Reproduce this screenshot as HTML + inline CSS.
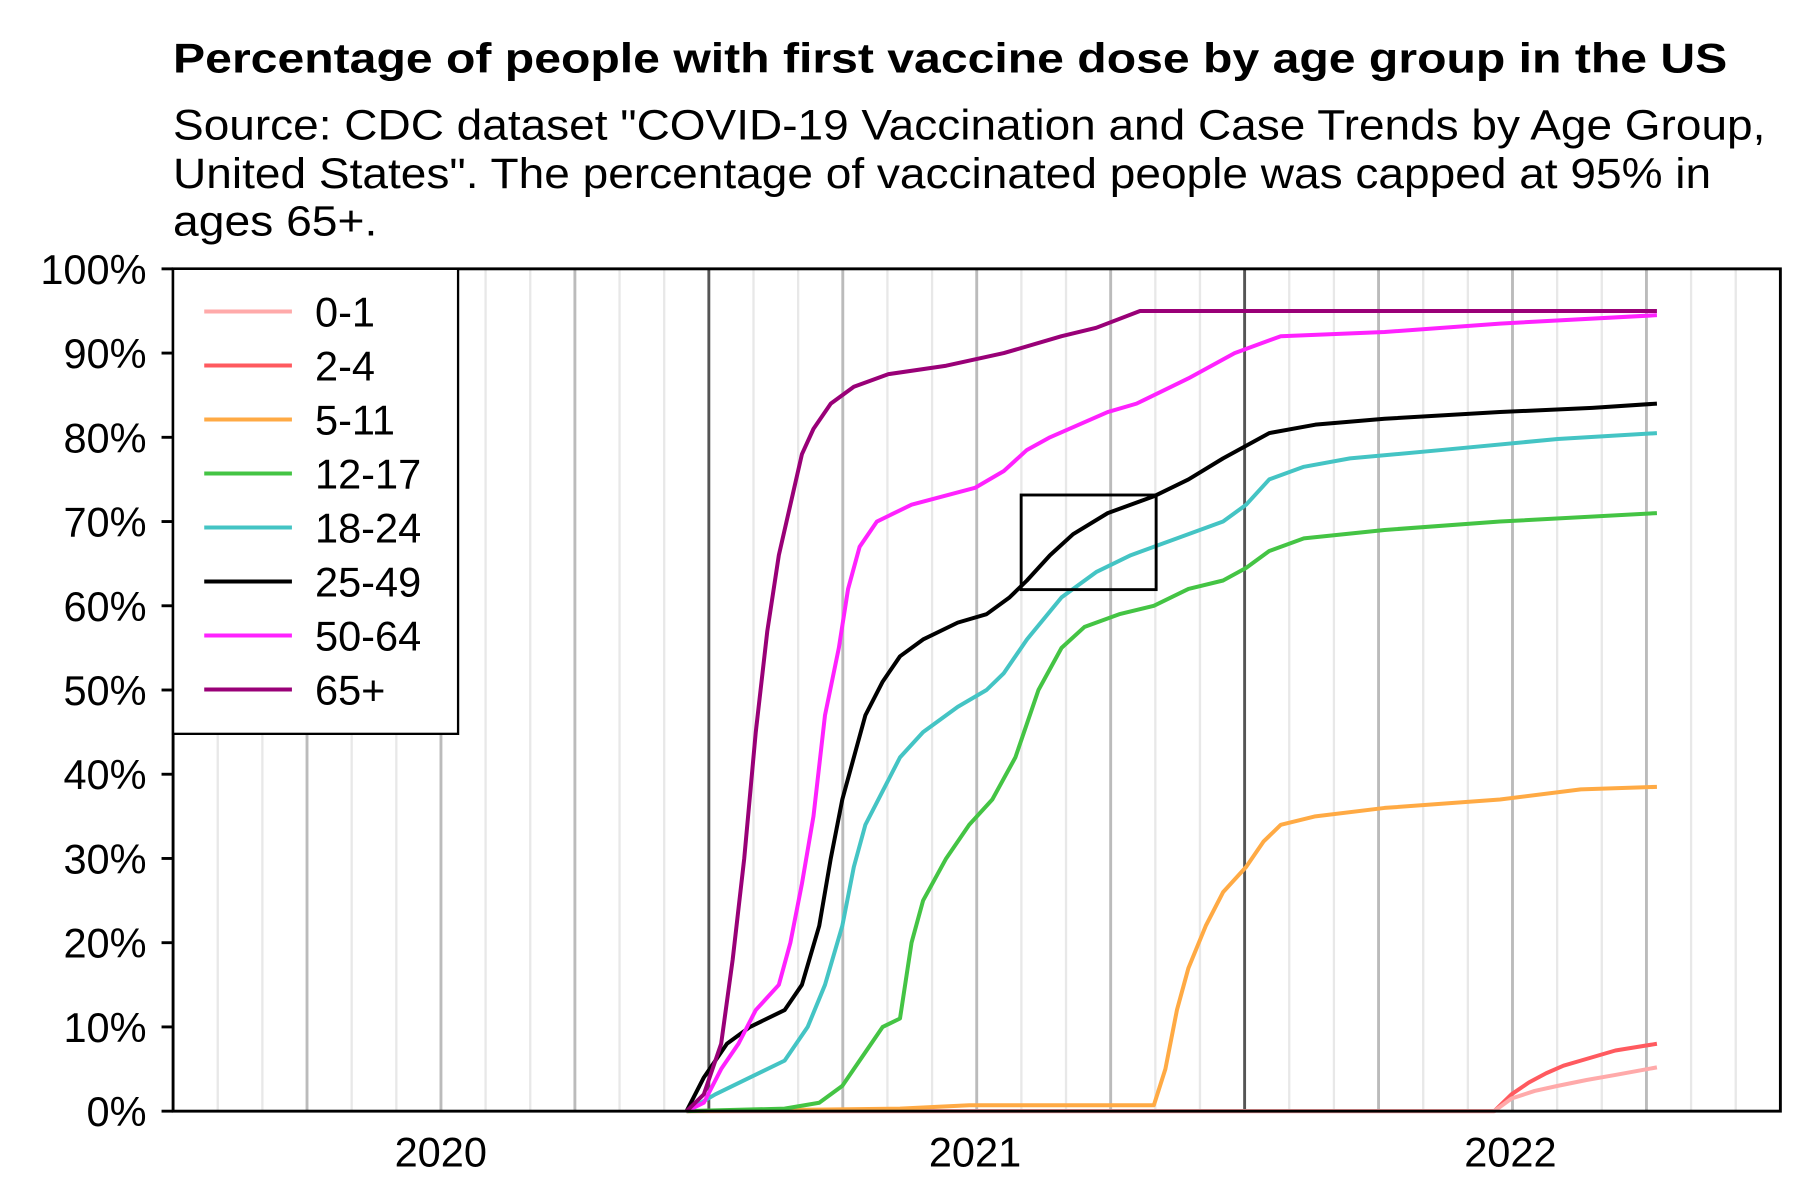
<!DOCTYPE html>
<html><head><meta charset="utf-8"><style>
html,body{margin:0;padding:0;background:#fff}
svg{display:block}
text{font-family:"Liberation Sans",Arial,sans-serif;fill:#000}
</style></head><body>
<svg id="s" width="1800" height="1200" viewBox="0 0 1560 1040" xmlns="http://www.w3.org/2000/svg">
<rect width="1560" height="1040" fill="#fff"/>
<text x="150" y="63" font-size="36" font-weight="bold" textLength="1347" lengthAdjust="spacingAndGlyphs">Percentage of people with first vaccine dose by age group in the US</text>
<text x="150" y="121" font-size="37" textLength="1380" lengthAdjust="spacingAndGlyphs">Source: CDC dataset "COVID-19 Vaccination and Case Trends by Age Group,</text>
<text x="150" y="163" font-size="37" textLength="1333" lengthAdjust="spacingAndGlyphs">United States". The percentage of vaccinated people was capped at 95% in</text>
<text x="150" y="204" font-size="37" textLength="177" lengthAdjust="spacingAndGlyphs">ages 65+.</text>
<g id="grid"></g>
<g transform="translate(0,963) scale(1,-7.3)" fill="none" stroke-width="4" stroke-linejoin="round">
<polyline vector-effect="non-scaling-stroke" stroke="#ff5a5f" points="595,0 1295,0 1310,2 1325,3.4 1340,4.5 1355,5.4 1370,6 1400,7.2 1436,8"/>
<polyline vector-effect="non-scaling-stroke" stroke="#ffaaaa" points="595,0 1295,0 1310,1.5 1330,2.4 1350,3 1375,3.7 1400,4.3 1436,5.2"/>
<polyline vector-effect="non-scaling-stroke" stroke="#ffaa44" points="595,0 780,0.3 840,0.7 1000,0.7 1010,5 1020,12 1030,17 1045,22 1060,26 1080,29 1095,32 1110,34 1140,35 1200,36 1300,37 1370,38.2 1436,38.5"/>
<polyline vector-effect="non-scaling-stroke" stroke="#44c444" points="595,0 680,0.3 710,1 730,3 750,7 765,10 780,11 790,20 800,25 820,30 840,34 860,37 880,42 890,46 900,50 920,55 940,57.5 970,59 1000,60 1030,62 1060,63 1080,64.5 1100,66.5 1130,68 1200,69 1300,70 1436,71"/>
<polyline vector-effect="non-scaling-stroke" stroke="#44c4c4" points="595,0 620,2 650,4 680,6 700,10 715,15 730,22 740,29 750,34 765,38 780,42 800,45 830,48 855,50 870,52 890,56 920,61 950,64 980,66 1020,68 1060,70 1080,72 1100,75 1130,76.5 1170,77.5 1250,78.5 1350,79.8 1436,80.5"/>
<polyline vector-effect="non-scaling-stroke" stroke="#000" points="595,0 610,4 630,8 650,10 680,12 695,15 710,22 720,30 730,37 740,42 750,47 765,51 780,54 800,56 830,58 855,59 875,61 890,63 910,66 930,68.5 960,71 1000,73 1030,75 1060,77.5 1080,79 1100,80.5 1140,81.5 1200,82.2 1300,83 1380,83.5 1436,84"/>
<polyline vector-effect="non-scaling-stroke" stroke="#ff22ff" points="595,0 610,1 625,5 640,8 655,12 675,15 685,20 695,27 705,35 715,47 727,55 735,62 745,67 760,70 790,72 845,74 870,76 890,78.5 910,80 960,83 985,84 1030,87 1070,90 1110,92 1200,92.5 1300,93.5 1436,94.5"/>
<polyline vector-effect="non-scaling-stroke" stroke="#990077" points="595,0 610,2 625,8 635,18 645,30 655,45 665,57 675,66 685,72 695,78 705,81 720,84 740,86 770,87.5 820,88.5 870,90 920,92 950,93 988,95 1436,95"/>
</g>
<rect x="885" y="429" width="117" height="82" fill="none" stroke="#000" stroke-width="2.5"/>
<rect x="150" y="233" width="1393" height="730" fill="none" stroke="#000" stroke-width="2.5"/>
<g id="yt" font-size="36" text-anchor="end"></g>
<g font-size="36" text-anchor="middle">
<text x="382" y="1011">2020</text><text x="845" y="1011">2021</text><text x="1309" y="1011">2022</text>
</g>
<rect x="150" y="233" width="247" height="403" fill="#fff" stroke="#000" stroke-width="2"/>
<g id="lg" font-size="36"></g>
</svg>
<script>
var NS="http://www.w3.org/2000/svg";
function el(p,t,a,tx){var e=document.createElementNS(NS,t);for(var k in a)e.setAttribute(k,a[k]);if(tx)e.textContent=tx;p.appendChild(e);return e;}
var g=document.getElementById("grid");
for(var i=1;i<36;i++){var x=150+i*1393/36;var c="#e8e8e8",w=2;
if(i%12==0){c="#555";w=2.5}else if(i%3==0){c="#bbb";w=2.5}
el(g,"line",{x1:x,x2:x,y1:233,y2:963,stroke:c,"stroke-width":w});}
var yt=document.getElementById("yt");
for(var p=0;p<=100;p+=10){var y=963-p*7.3;el(yt,"line",{x1:140,x2:150,y1:y,y2:y,stroke:"#000","stroke-width":2.5});
el(yt,"text",{x:127,y:y+13},p+"%");}
var L=[["0-1","#ffaaaa"],["2-4","#ff5a5f"],["5-11","#ffaa44"],["12-17","#44c444"],["18-24","#44c4c4"],["25-49","#000"],["50-64","#ff22ff"],["65+","#990077"]];
var lg=document.getElementById("lg");
L.forEach(function(d,i){var y=270+i*46.8;el(lg,"line",{x1:177,x2:253,y1:y,y2:y,stroke:d[1],"stroke-width":3.5});el(lg,"text",{x:273,y:y+13},d[0]);});
</script>
</body></html>
